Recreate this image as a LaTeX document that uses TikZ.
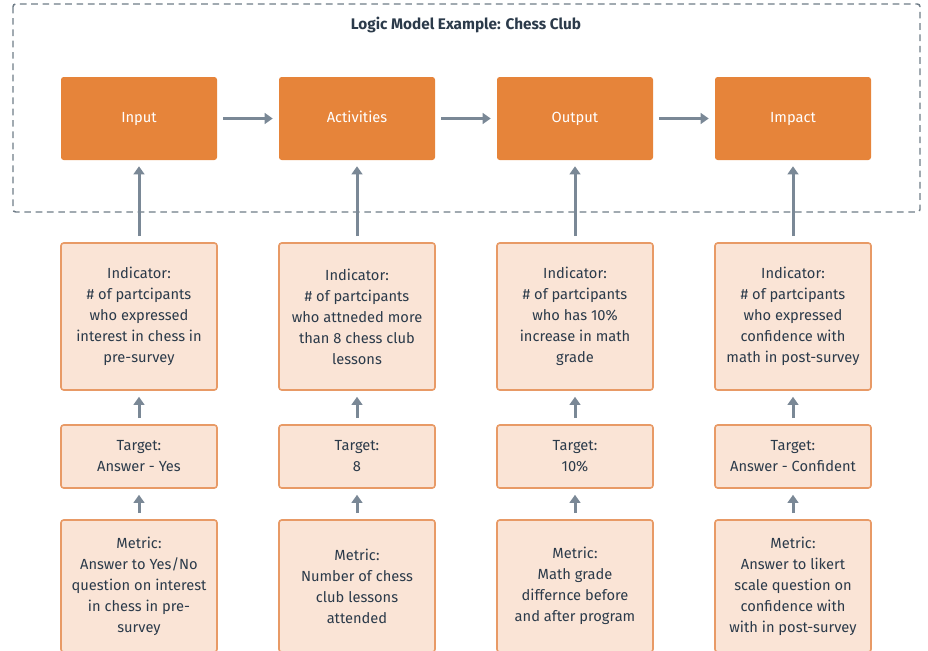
\documentclass[tikz,border=0pt]{standalone}
\usepackage{fontspec}
\setmainfont{Fira Sans}
\usetikzlibrary{arrows.meta}
\definecolor{stageorange}{HTML}{E6843A}
\definecolor{peach}{HTML}{FAE4D6}
\definecolor{peachline}{HTML}{E89A66}
\definecolor{arrowgray}{HTML}{7A8896}
\definecolor{framegray}{HTML}{6F7C87}
\definecolor{inkdark}{HTML}{2B3A4A}
\tikzset{
    stage/.style={fill=stageorange, text=white, rounded corners=2pt,
        minimum width=117pt, minimum height=62.25pt, inner sep=0pt,
        text height=1.6ex, text depth=0.4ex},
    infobox/.style={fill=peach, draw=peachline, line width=1.2pt, rounded corners=2pt,
        minimum width=117pt, align=center, text=inkdark, inner sep=0pt},
    flow/.style={draw=arrowgray, line width=2.25pt, -{Triangle[length=6pt,width=8pt]},
        shorten >=4.5pt, shorten <=4.5pt}
}
\begin{document}
\begin{tikzpicture}[x=0.75pt, y=-0.75pt, font=\fontsize{11pt}{15.75pt}\selectfont]
    \useasboundingbox (0,0) rectangle (928,650);
    % frame and title
    \draw[framegray, line width=1.1pt, dash pattern=on 5pt off 3.5pt, rounded corners=2pt]
        (13,4) rectangle (920,212);
    \node[text=inkdark, font=\fontsize{11.5pt}{12pt}\selectfont\bfseries] (title) at (466,25) {Logic Model Example: Chess Club};
    % stages
    \node[stage] (input) at (139,118.5) {Input};
    \node[stage] (activities) at (357,118.5) {Activities};
    \node[stage] (output) at (575,118.5) {Output};
    \node[stage] (impact) at (793,118.5) {Impact};
    % indicators
    \node[infobox, minimum height=110.25pt] (ind1) at (139,316.5) {Indicator:\\\# of partcipants\\who expressed\\interest in chess in\\pre-survey};
    \node[infobox, minimum height=110.25pt] (ind2) at (357,316.5) {Indicator:\\\# of partcipants\\who attneded more\\than 8 chess club\\lessons};
    \node[infobox, minimum height=110.25pt] (ind3) at (575,316.5) {Indicator:\\\# of partcipants\\who has 10\%\\increase in math\\grade};
    \node[infobox, minimum height=110.25pt] (ind4) at (793,316.5) {Indicator:\\\# of partcipants\\who expressed\\confidence with\\math in post-survey};
    % targets
    \node[infobox, minimum height=47.25pt] (tgt1) at (139,456.5) {Target:\\Answer - Yes};
    \node[infobox, minimum height=47.25pt] (tgt2) at (357,456.5) {Target:\\8};
    \node[infobox, minimum height=47.25pt] (tgt3) at (575,456.5) {Target:\\10\%};
    \node[infobox, minimum height=47.25pt] (tgt4) at (793,456.5) {Target:\\Answer - Confident};
    % metrics
    \node[infobox, minimum height=99pt] (met1) at (139,586) {Metric:\\Answer to Yes/No\\question on interest\\in chess in pre-\\survey};
    \node[infobox, minimum height=99pt] (met2) at (357,586) {Metric:\\Number of chess\\club lessons\\attended};
    \node[infobox, minimum height=99pt] (met3) at (575,586) {Metric:\\Math grade\\differnce before\\and after program};
    \node[infobox, minimum height=99pt] (met4) at (793,586) {Metric:\\Answer to likert\\scale question on\\confidence with\\with in post-survey};
    % connectors
    \draw[flow] (input) -- (activities);
    \draw[flow] (activities) -- (output);
    \draw[flow] (output) -- (impact);
    \foreach \i/\s in {1/input, 2/activities, 3/output, 4/impact} {
        \draw[flow] (ind\i) -- (\s);
        \draw[flow] (tgt\i) -- (ind\i);
        \draw[flow] (met\i) -- (tgt\i);
    }
\end{tikzpicture}
\end{document}
